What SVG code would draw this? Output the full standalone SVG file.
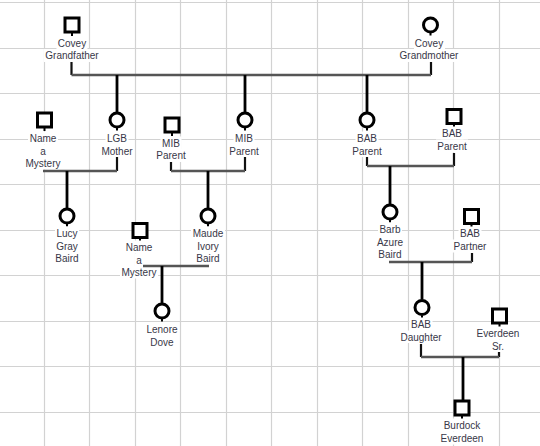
<svg xmlns="http://www.w3.org/2000/svg" width="540" height="446" viewBox="0 0 540 446">
<style>
.grid line{stroke:#d2d2d2;stroke-width:1.2}
.shape{fill:#fff;stroke:#000;stroke-width:3}
.tick{stroke:#000;stroke-width:2}
.bg{fill:#fff}
text{font-family:"Liberation Sans",Arial,sans-serif;font-size:10px;fill:#383848;text-anchor:middle}
.mar{stroke:#555;stroke-width:2.5;fill:none}
.stub{stroke:#111;stroke-width:2.2;fill:none}
.drop{stroke:#000;stroke-width:2.8;fill:none}
</style>
<rect width="540" height="446" fill="#fff"/>
<g class="grid">
<line x1="44.5" y1="0" x2="44.5" y2="446"/><line x1="89.5" y1="0" x2="89.5" y2="446"/><line x1="135.5" y1="0" x2="135.5" y2="446"/><line x1="180.5" y1="0" x2="180.5" y2="446"/><line x1="226.5" y1="0" x2="226.5" y2="446"/><line x1="271.5" y1="0" x2="271.5" y2="446"/><line x1="317.5" y1="0" x2="317.5" y2="446"/><line x1="362.5" y1="0" x2="362.5" y2="446"/><line x1="408.5" y1="0" x2="408.5" y2="446"/><line x1="453.5" y1="0" x2="453.5" y2="446"/><line x1="499.5" y1="0" x2="499.5" y2="446"/>
<line x1="0" y1="2.5" x2="540" y2="2.5"/><line x1="0" y1="48.5" x2="540" y2="48.5"/><line x1="0" y1="93.5" x2="540" y2="93.5"/><line x1="0" y1="139.5" x2="540" y2="139.5"/><line x1="0" y1="184.5" x2="540" y2="184.5"/><line x1="0" y1="230.5" x2="540" y2="230.5"/><line x1="0" y1="275.5" x2="540" y2="275.5"/><line x1="0" y1="321.5" x2="540" y2="321.5"/><line x1="0" y1="366.5" x2="540" y2="366.5"/><line x1="0" y1="412.5" x2="540" y2="412.5"/>
</g>

<g id="covey-grandfather">
<rect class="shape" x="65" y="18" width="14" height="14"/><line class="tick" x1="72" y1="33" x2="72" y2="36"/>
<rect class="bg" x="56.5" y="36.5" width="31" height="13"/><text x="72" y="46.5">Covey</text>
<rect class="bg" x="44" y="49" width="56" height="13"/><text x="72" y="58.5">Grandfather</text>
</g>
<g id="covey-grandmother">
<circle class="shape" cx="430.5" cy="25" r="7"/><line class="tick" x1="430.5" y1="33" x2="430.5" y2="35.5"/>
<rect class="bg" x="414" y="36.5" width="31" height="13"/><text x="429" y="46.5">Covey</text>
<rect class="bg" x="398" y="49" width="62" height="13"/><text x="429" y="58.5">Grandmother</text>
</g>
<g id="name-a-mystery-1">
<rect class="shape" x="37.5" y="113" width="14" height="14"/><line class="tick" x1="44.5" y1="128" x2="44.5" y2="131"/>
<rect class="bg" x="28" y="131.5" width="30" height="13"/><text x="43" y="141.5">Name</text>
<rect class="bg" x="38.5" y="144.5" width="9" height="13"/><text x="43" y="154.5">a</text>
<rect class="bg" x="24" y="157" width="38" height="12.5"/><text x="43" y="166.5">Mystery</text>
</g>
<g id="lgb-mother">
<circle class="shape" cx="117" cy="120" r="7"/><line class="tick" x1="117" y1="128" x2="117" y2="130.5"/>
<rect class="bg" x="105.5" y="131.5" width="23" height="13"/><text x="117" y="141.5">LGB</text>
<rect class="bg" x="100" y="144.5" width="34" height="12.5"/><text x="117" y="154.5">Mother</text>
</g>
<g id="mib-parent-1">
<rect class="shape" x="165" y="118" width="14" height="14"/><line class="tick" x1="172" y1="133" x2="172" y2="136"/>
<rect class="bg" x="160.5" y="136.5" width="21" height="13"/><text x="171" y="146.5">MIB</text>
<rect class="bg" x="155" y="149" width="32" height="13"/><text x="171" y="158.5">Parent</text>
</g>
<g id="mib-parent-2">
<circle class="shape" cx="245" cy="120" r="7"/><line class="tick" x1="245" y1="128" x2="245" y2="130.5"/>
<rect class="bg" x="233.5" y="131.5" width="21" height="13"/><text x="244" y="141.5">MIB</text>
<rect class="bg" x="228" y="144.5" width="32" height="12.5"/><text x="244" y="154.5">Parent</text>
</g>
<g id="bab-parent-1">
<circle class="shape" cx="367" cy="120" r="7"/><line class="tick" x1="367" y1="128" x2="367" y2="130.5"/>
<rect class="bg" x="355.5" y="131.5" width="23" height="13"/><text x="367" y="141.5">BAB</text>
<rect class="bg" x="351" y="144.5" width="32" height="12.5"/><text x="367" y="154.5">Parent</text>
</g>
<g id="bab-parent-2">
<rect class="shape" x="447" y="109.5" width="14" height="14"/><line class="tick" x1="454" y1="124.5" x2="454" y2="127.5"/>
<rect class="bg" x="440.5" y="126.5" width="23" height="13"/><text x="452" y="136.5">BAB</text>
<rect class="bg" x="436" y="139.5" width="32" height="13"/><text x="452" y="149.5">Parent</text>
</g>
<g id="lucy-gray-baird">
<circle class="shape" cx="67" cy="216" r="7"/><line class="tick" x1="67" y1="224" x2="67" y2="226.5"/>
<rect class="bg" x="55" y="226.5" width="24" height="13"/><text x="67" y="236.5">Lucy</text>
<rect class="bg" x="54.5" y="239.5" width="25" height="12.5"/><text x="67" y="249.5">Gray</text>
<rect class="bg" x="54" y="252" width="26" height="12.5"/><text x="67" y="261.5">Baird</text>
</g>
<g id="maude-ivory-baird">
<circle class="shape" cx="208" cy="216" r="7"/><line class="tick" x1="208" y1="224" x2="208" y2="226.5"/>
<rect class="bg" x="191" y="226.5" width="34" height="13"/><text x="208" y="236.5">Maude</text>
<rect class="bg" x="195.5" y="239.5" width="25" height="12.5"/><text x="208" y="249.5">Ivory</text>
<rect class="bg" x="195" y="252" width="26" height="12.5"/><text x="208" y="261.5">Baird</text>
</g>
<g id="barb-azure-baird">
<circle class="shape" cx="390" cy="212" r="7"/><line class="tick" x1="390" y1="220" x2="390" y2="222.5"/>
<rect class="bg" x="378" y="222.5" width="24" height="13"/><text x="390" y="232.5">Barb</text>
<rect class="bg" x="375.5" y="235.5" width="29" height="12.5"/><text x="390" y="245.5">Azure</text>
<rect class="bg" x="377" y="248" width="26" height="12.5"/><text x="390" y="257.5">Baird</text>
</g>
<g id="bab-partner">
<rect class="shape" x="464.5" y="209.5" width="14" height="14"/><line class="tick" x1="471.5" y1="224.5" x2="471.5" y2="227.5"/>
<rect class="bg" x="458.5" y="226.5" width="23" height="13"/><text x="470" y="236.5">BAB</text>
<rect class="bg" x="452" y="239.5" width="36" height="13"/><text x="470" y="249.5">Partner</text>
</g>
<g id="name-a-mystery-2">
<rect class="shape" x="133" y="223.5" width="14" height="14"/><line class="tick" x1="140" y1="238.5" x2="140" y2="241.5"/>
<rect class="bg" x="124" y="240.5" width="30" height="13"/><text x="139" y="250.5">Name</text>
<rect class="bg" x="134.5" y="253.5" width="9" height="13"/><text x="139" y="263.5">a</text>
<rect class="bg" x="120" y="266" width="38" height="12.5"/><text x="139" y="275.5">Mystery</text>
</g>
<g id="lenore-dove">
<circle class="shape" cx="162" cy="311" r="7"/><line class="tick" x1="162" y1="319" x2="162" y2="321.5"/>
<rect class="bg" x="145" y="322.5" width="34" height="13"/><text x="162" y="332.5">Lenore</text>
<rect class="bg" x="149" y="335.5" width="26" height="12.5"/><text x="162" y="345.5">Dove</text>
</g>
<g id="bab-daughter">
<circle class="shape" cx="422" cy="307.5" r="7"/><line class="tick" x1="422" y1="315.5" x2="422" y2="318"/>
<rect class="bg" x="409.5" y="317.5" width="23" height="13"/><text x="421" y="327.5">BAB</text>
<rect class="bg" x="399" y="330.5" width="44" height="12.5"/><text x="421" y="340.5">Daughter</text>
</g>
<g id="everdeen-sr">
<rect class="shape" x="492.5" y="309" width="14" height="14"/><line class="tick" x1="499.5" y1="324" x2="499.5" y2="327"/>
<rect class="bg" x="475" y="326.5" width="46" height="13"/><text x="498" y="336.5">Everdeen</text>
<rect class="bg" x="490" y="339.5" width="16" height="12.5"/><text x="498" y="349.5">Sr.</text>
</g>
<g id="burdock-everdeen">
<rect class="shape" x="455" y="401" width="14" height="14"/><line class="tick" x1="462" y1="416" x2="462" y2="419"/>
<rect class="bg" x="442" y="418.5" width="40" height="13"/><text x="462" y="428.5">Burdock</text>
<rect class="bg" x="439" y="431.5" width="46" height="13"/><text x="462" y="441.5">Everdeen</text>
</g>

<g id="connectors">
<path class="stub" d="M71.5 62V75M431 62V75"/>
<path class="mar" d="M71.5 75H431"/>
<path class="drop" d="M117 75V112M245 75V112M367 75V112"/>
<path class="stub" d="M117 157V171"/>
<path class="mar" d="M43 171H117"/>
<path class="drop" d="M67 171V208"/>
<path class="stub" d="M171 162V171M245 157V171"/>
<path class="mar" d="M171 171H245"/>
<path class="drop" d="M208 171V208"/>
<path class="stub" d="M367 157V166M454 153V166"/>
<path class="mar" d="M367 166H454"/>
<path class="drop" d="M390 166V204"/>
<path class="stub" d="M472 253V262"/>
<path class="mar" d="M389 262H472"/>
<path class="drop" d="M422 262V299.5"/>
<path class="mar" d="M143 266H209"/>
<path class="drop" d="M162 266V303"/>
<path class="stub" d="M421 344V357M499 352V357"/>
<path class="mar" d="M421 357H499"/>
<path class="drop" d="M463 357V400"/>
</g>
</svg>
